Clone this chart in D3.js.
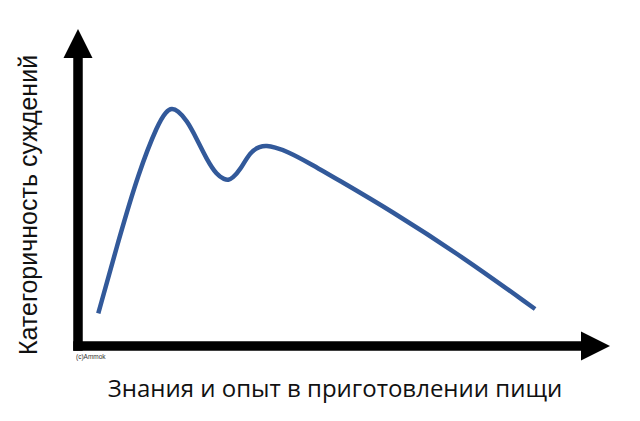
<!DOCTYPE html>
<html>
<head>
<meta charset="utf-8">
<script src="https://cdn.jsdelivr.net/npm/d3@7"></script>
<style>
  html, body { margin: 0; padding: 0; background: #fff; }
</style>
</head>
<body>
<svg id="chart" width="640" height="421"></svg>
<script>
'use strict';

// knowledge (x) vs. confidence of judgement (y), arbitrary 0..100 units
const knowledge = [3.9, 7.8, 11.6, 15.4, 17.0, 18.0, 19.2, 20.9, 22.8, 24.8, 26.7, 28.2, 28.9, 29.7, 31.2, 33.1, 35.0, 36.3, 37.8, 40.1, 44.6, 49.8, 60.0, 74.0, 87.9];
const confidence = [10.3, 33.5, 54.7, 70.5, 74.3, 75.3, 74.5, 71.5, 65.7, 58.9, 54.1, 52.7, 52.5, 53.1, 55.7, 61.5, 63.2, 63.4, 62.9, 61.7, 57.8, 52.8, 43.0, 28.2, 11.7];

const xTitle = 'Знания и опыт в приготовлении пищи';
const yTitle = 'Категоричность суждений';
const credit = '(c)Ammok';

const svg = d3.select('#chart');

const x = d3.scaleLinear().domain([0, 100]).range([78, 598]);
const y = d3.scaleLinear().domain([0, 100]).range([346, 30]);

// axes drawn as thick arrows
const axisW = 9.5;
const headLen = 29;
const headHalf = 14.5;

const x0 = x(0), y0 = y(0);
const xTip = 610, yTip = 29;

svg.append('rect')
  .attr('x', x0 - axisW / 2)
  .attr('y', yTip + headLen)
  .attr('width', axisW)
  .attr('height', y0 + axisW / 2 - (yTip + headLen))
  .attr('fill', '#000');
svg.append('path')
  .attr('d', `M${x0 - headHalf},${yTip + headLen} L${x0},${yTip} L${x0 + headHalf},${yTip + headLen} Z`)
  .attr('fill', '#000');

svg.append('rect')
  .attr('x', x0 - axisW / 2)
  .attr('y', y0 - axisW / 2)
  .attr('width', xTip - headLen - (x0 - axisW / 2))
  .attr('height', axisW)
  .attr('fill', '#000');
svg.append('path')
  .attr('d', `M${xTip - headLen},${y0 - headHalf} L${xTip},${y0} L${xTip - headLen},${y0 + headHalf} Z`)
  .attr('fill', '#000');

// the curve (b-spline through the read points, keeps it smooth)
const line = d3.line()
  .x(d => x(d[0]))
  .y(d => y(d[1]))
  .curve(d3.curveBasis);

svg.append('path')
  .datum(d3.zip(knowledge, confidence))
  .attr('d', line)
  .attr('fill', 'none')
  .attr('stroke', '#32599a')
  .attr('stroke-width', 4.5)
  .attr('stroke-linejoin', 'round');

// texts
svg.append('text')
  .attr('x', 335)
  .attr('y', 397)
  .attr('text-anchor', 'middle')
  .attr('font-family', '"Open Sans", sans-serif')
  .attr('font-size', 24)
  .attr('fill', '#111')
  .text(xTitle);

svg.append('text')
  .attr('transform', 'translate(37,205) rotate(-90)')
  .attr('text-anchor', 'middle')
  .attr('font-family', '"Liberation Sans", Arial, sans-serif')
  .attr('font-size', 25)
  .attr('fill', '#111')
  .text(yTitle);

svg.append('text')
  .attr('x', 76)
  .attr('y', 359)
  .attr('font-family', '"Liberation Sans", Arial, sans-serif')
  .attr('font-size', 6.5)
  .attr('fill', '#333')
  .text(credit);
</script>
</body>
</html>
